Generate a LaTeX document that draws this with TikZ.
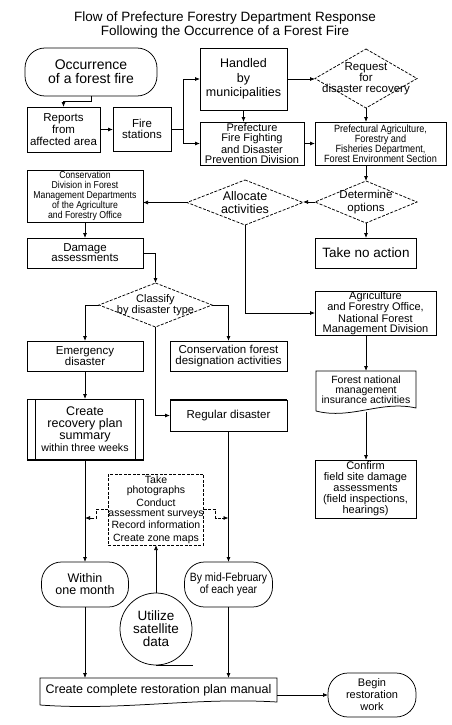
\documentclass[tikz,border=0pt]{standalone}
\usepackage{fontspec}
\setmainfont{Liberation Sans}
\newfontfamily\narrowfont[FakeStretch=0.87]{Liberation Sans}
\usetikzlibrary{arrows.meta,calc}
\begin{document}
\begin{tikzpicture}[x=1pt,y=1pt,
  line width=0.75pt,
  fs/.style 2 args={font=\fontsize{#1}{#2}\selectfont},
  base/.style={inner sep=0pt, outer sep=0pt, align=center},
  box/.style 2 args={base, draw, minimum width=#1pt, minimum height=#2pt},
  ghost/.style 2 args={base, minimum width=#1pt, minimum height=#2pt},
  stad/.style 2 args={base, draw, rounded corners=20pt, minimum width=#1pt, minimum height=#2pt},
  arr/.style={-{Latex[length=5pt,width=4pt]}},
  dashedge/.style={dash pattern=on 3pt off 1.5pt},
]
\fill[white] (0,0) rectangle (451,-725);
\useasboundingbox (0,0) rectangle (451,-725);

% title
\node[base, fs={13.5}{13.5}] (title) at (225,-25) {Flow of Prefecture Forestry Department Response\\Following the Occurrence of a Forest Fire};

% nodes
\node[stad={132}{48}, fs={14}{14}] (occ) at (91,-72) {Occurrence\\of a forest fire};
\node[box={73}{45}, fs={11.5}{12}] (rep) at (63.5,-129.5) {Reports\\from\\affected area};
\node[box={58}{44}, fs={11.5}{11}] (fire) at (142,-129) {Fire\\stations};
\node[box={87}{62}, fs={12.5}{14.5}] (hand) at (243.5,-79) {Handled\\by\\municipalities};
\node[ghost={102}{59}, fs={11.5}{11}] (req) at (366,-78.5) {Request\\for\\disaster recovery};
\node[box={104}{43}, fs={11}{10}] (pffd) at (252,-143.5) {Prefecture\\Fire Fighting\\and Disaster\\Prevention Division};
\node[box={131}{43}, font=\narrowfont\fontsize{10.5}{10}\selectfont] (paff) at (380.5,-143.5) {Prefectural Agriculture,\\Forestry and\\Fisheries Department,\\Forest Environment Section};
\node[ghost={102}{42}, fs={11.5}{13}] (det) at (366,-202) {Determine\\options};
\node[ghost={116}{45}, fs={12.5}{12.5}] (alloc) at (245,-202.5) {Allocate\\activities};
\node[box={116}{52}, font=\narrowfont\fontsize{10}{10}\selectfont] (cons) at (85,-196) {Conservation\\Division in Forest\\Management Departments\\of the Agriculture\\and Forestry Office};
\node[box={101}{30}, fs={13.5}{14}] (noact) at (366,-253) {Take no action};
\node[box={116}{30}, fs={11.5}{10}] (dmg) at (85,-253) {Damage\\assessments};
\node[ghost={113}{44}, fs={11}{10}] (cls) at (155.5,-305) {Classify\\by disaster type};
\node[box={121}{44}, fs={11}{10}] (agri) at (375.5,-313) {Agriculture\\and Forestry Office,\\National Forest\\Management Division};
\node[box={116}{30}, fs={11.5}{11}] (emer) at (85,-356) {Emergency\\disaster};
\node[box={117}{30}, fs={11.5}{11}] (cfd) at (228.5,-356) {Conservation forest\\designation activities};
\node[ghost={100}{37}, fs={10.5}{10}] (fnm) at (366,-389.5) {Forest national\\management\\insurance activities};
\node[box={116}{61}, fs={12.5}{12}] (crp) at (85,-429.5) {Create\\recovery plan\\summary\\{\fontsize{10.6}{12}\selectfont within three weeks}};
\node[box={117}{31}, fs={11.5}{12}] (reg) at (228.5,-415.5) {Regular disaster};
\node[box={101}{58}, fs={11}{11}] (conf) at (365.5,-489) {Confirm\\field site damage\\assessments\\(field inspections,\\hearings)};
\node[box={86}{71}, dashedge, fs={10.5}{10}] (take) at (156,-509.5) {Take\\photographs\\[3pt]Conduct\\assessment surveys\\[2pt]Record information\\[3pt]Create zone maps};
\node[stad={87}{45}, fs={12.5}{12}] (month) at (85,-584.5) {Within\\one month};
\node[stad={88}{45}, font=\narrowfont\fontsize{12}{12}\selectfont] (feb) at (228.5,-584.5) {By mid-February\\of each year};
\node[base, draw, circle, minimum size=72pt, fs={13.5}{13}] (sat) at (156,-629) {Utilize\\satellite\\data};
\node[ghost={237}{24}, fs={12.5}{13}] (manual) at (158.5,-690) {Create complete restoration plan manual};
\node[stad={88}{44}, fs={11}{12}] (begin) at (372,-695) {Begin\\restoration\\work};

% diamonds
\foreach \n in {req,det,alloc,cls}
  \draw[dashedge] (\n.north) -- (\n.east) -- (\n.south) -- (\n.west) -- cycle;

% document shapes
\draw ([yshift=-3pt]fnm.south west) -- (fnm.north west) -- (fnm.north east) -- (fnm.south east)
  .. controls ($(fnm.south west)!0.65!(fnm.south east)+(0,8)$) and ($(fnm.south west)!0.35!(fnm.south east)+(0,-12)$) .. ([yshift=-3pt]fnm.south west);
\draw ([yshift=-3pt]manual.south west) -- (manual.north west) -- (manual.north east) -- (manual.south east)
  .. controls ($(manual.south west)!0.65!(manual.south east)+(0,5)$) and ($(manual.south west)!0.35!(manual.south east)+(0,-9)$) .. ([yshift=-3pt]manual.south west);

% extra details
\draw ([xshift=8pt]crp.north west) -- ([xshift=8pt]crp.south west);
\draw ([xshift=-8pt]crp.north east) -- ([xshift=-8pt]crp.south east);
\draw[line width=1.6pt] (reg.north west) -- (reg.north east);
\draw[line width=1.3pt] (crp.south west) -- (crp.south east);
\draw (sat.south) -- ++(37,0);

% connectors
\draw[arr] (occ.south) -- ++(0,-5) -| (rep.north);
\draw[arr] (rep.east) -- (rep.east -| fire.west);
\draw[arr] (fire.east) -- ++(12,0) |- (hand.west);
\draw[arr] (fire.east) -- ++(12,0) |- (pffd.west);
\draw[arr] (hand.east) -- (hand.east -| req.west);
\draw[arr] (hand.south) -- (hand.south |- pffd.north);
\draw[arr] (req.south) -- (req.south |- paff.north);
\draw[arr] (pffd.east) -- (pffd.east -| paff.west);
\draw[arr] (det.north |- paff.south) -- (det.north);
\draw[arr] (det.west) -- (det.west -| alloc.east);
\draw[arr] (alloc.west) -- (alloc.west -| cons.east);
\draw[arr] (det.south) -- (det.south |- noact.north);
\draw[arr] (cons.south) -- (dmg.north);
\draw[arr] (dmg.east) -| (cls.north);
\draw[arr] (cls.west) -| (emer.north);
\draw[arr] (cls.east) -| (cfd.north);
\draw[arr] (cls.south) |- (reg.west);
\draw[arr] (alloc.south) |- (agri.west);
\draw[arr] (fnm.north |- agri.south) -- (fnm.north);
\draw[arr] ([yshift=-4pt]fnm.south) -- (fnm.south |- conf.north);
\draw[arr] (emer.south) -- (crp.north);
\draw[arr] (crp.south) -- (crp.south |- month.north);
\draw[arr] (reg.south) -- (reg.south |- feb.north);
\draw[arr, dashedge] (take.west) -- ++(-12,0) |- ([yshift=-8.5pt]take.west -| crp.south);
\draw[arr, dashedge] (take.east) -- ++(12,0) |- ([yshift=-8.5pt]take.east -| reg.south);
\draw[arr] (sat.north) -- (sat.north |- take.south);
\draw[arr] (month.south) -- (month.south |- manual.north);
\draw[arr] (feb.south) -- (feb.south |- manual.north);
\draw[arr] (manual.east |- begin.west) -- (begin.west);
\end{tikzpicture}
\end{document}
